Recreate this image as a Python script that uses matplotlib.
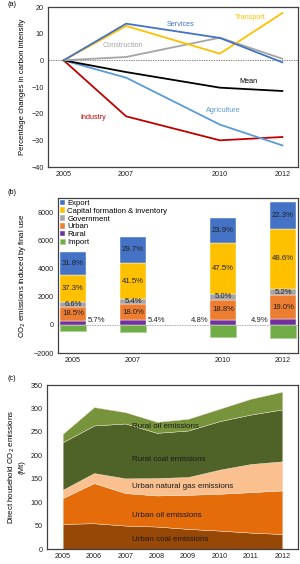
import matplotlib
matplotlib.use("Agg")
import matplotlib.pyplot as plt
import numpy as np

plt.rcParams['font.family'] = ['Liberation Sans', 'DejaVu Sans']

# ---------- Panel (a) data ----------
years_a = [2005, 2007, 2010, 2012]
services = [0, 13.75, 8.4, -0.75]
transport = [0, 12.9, 2.5, 17.75]
construction = [0, 1.25, 8.5, 0.6]
mean = [0, -4.4, -10.25, -11.5]
agriculture = [0, -6.5, -24.1, -31.9]
industry = [0, -21.0, -30.0, -28.75]

# ---------- Panel (b) data ----------
years_b = [2005, 2007, 2010, 2012]
totals_b = [5150, 6250, 7600, 8750]
pct_rural = [5.7, 5.4, 4.8, 4.9]
pct_urban = [18.5, 18.0, 18.8, 19.0]
pct_gov = [6.6, 5.4, 5.0, 5.2]
pct_capital = [37.3, 41.5, 47.5, 48.6]
pct_export = [31.8, 29.7, 23.9, 22.3]
imports = [-420, -540, -840, -935]

# ---------- Panel (c) data ----------
years_c = [2005, 2006, 2007, 2008, 2009, 2010, 2011, 2012]
urban_coal = [53.6, 55.0, 50.0, 47.9, 42.9, 39.3, 35.0, 32.0]
urban_oil = [55.0, 85.7, 69.3, 66.4, 72.8, 78.6, 86.4, 93.0]
urban_gas = [17.8, 21.3, 31.4, 37.1, 37.9, 51.4, 60.0, 62.1]
rural_coal = [101.5, 101.6, 117.2, 96.5, 99.3, 103.6, 105.6, 110.8]
rural_oil = [17.8, 39.3, 24.1, 23.5, 25.0, 26.4, 33.7, 37.8]

FS = 5.2
frame_col = '#404040'

fig = plt.figure(figsize=(3.0, 5.64), dpi=100)

def style(ax):
    for s in ax.spines.values():
        s.set_color(frame_col)
        s.set_linewidth(0.9)
    ax.tick_params(length=0, labelsize=FS, pad=3, colors='#222222')

# ---------- Panel (a) ----------
ax1 = fig.add_axes([48/300, 1-167/564, 250/300, 160/564])
style(ax1)
ax1.axhline(0, color='#555555', lw=0.5, ls=(0, (2, 1.5)))
series = [
    (industry, '#C00000', 'Industry', 2005.95, -21.25),
    (agriculture, '#5B9BD5', 'Agriculture', 2010.1, -18.75),
    (mean, '#000000', 'Mean', 2010.9, -7.9),
    (construction, '#A5A5A5', 'Construction', 2006.9, 5.5),
    (transport, '#FFC000', 'Transport', 2010.96, 16.0),
    (services, '#4472C4', 'Services', 2008.73, 13.5),
]
for vals, col, name, tx, ty in series:
    ax1.plot(years_a, vals, color=col, lw=1.3, solid_joinstyle='miter')
    ax1.text(tx, ty, name, color=col, fontsize=FS, ha='center', va='center')
ax1.set_xlim(2004.5, 2012.5)
ax1.set_ylim(-40, 20)
ax1.set_xticks(years_a)
ax1.set_yticks([-40, -30, -20, -10, 0, 10, 20])
ax1.set_ylabel('Percentage changes in carbon intensity', fontsize=5.6, labelpad=4)
fig.text(7/300, 1-5/564, '(a)', fontsize=FS, ha='left', va='center')

# ---------- Panel (b) ----------
ax2 = fig.add_axes([58/300, 1-353/564, 240/300, 155/564])
style(ax2)
ax2.axhline(0, color='#888888', lw=0.6, ls=(0, (1, 1)), zorder=1)
yb = np.array(years_b, dtype=float)
tot = np.array(totals_b, dtype=float)
layers = [
    ('Rural', pct_rural, '#7030A0'),
    ('Urban', pct_urban, '#ED7D31'),
    ('Government', pct_gov, '#A5A5A5'),
    ('Capital formation & inventory', pct_capital, '#FFC000'),
    ('Export', pct_export, '#4472C4'),
]
w = 0.85
bottom = np.zeros(len(yb))
handles = {}
for name, pct, col in layers:
    vals = tot * np.array(pct) / 100.0
    h = ax2.bar(yb, vals, w, bottom=bottom, color=col, zorder=2, edgecolor='white', linewidth=0.3)
    handles[name] = h
    if name != 'Rural':
        for x, b, v, p in zip(yb, bottom, vals, pct):
            ax2.text(x, b + v/2, f'{p:.1f}%', fontsize=5.6, ha='center', va='center', color='#222222', zorder=3)
    else:
        for i, (x, b, v, p) in enumerate(zip(yb, bottom, vals, pct)):
            if i < 2:
                ax2.text(x + w/2 + 0.05, 330, f'{p:.1f}%', fontsize=5.6, ha='left', va='center', color='#222222', zorder=3)
            else:
                ax2.text(x - w/2 - 0.05, 330, f'{p:.1f}%', fontsize=5.6, ha='right', va='center', color='#222222', zorder=3)
    bottom = bottom + vals
h_imp = ax2.bar(yb, imports, w, color='#70AD47', zorder=2, edgecolor='#A9D18E', linewidth=0.5)
handles['Import'] = h_imp
order = ['Export', 'Capital formation & inventory', 'Government', 'Urban', 'Rural', 'Import']
ax2.legend([handles[k] for k in order], order, loc='upper left', fontsize=5.6, frameon=False,
           handlelength=0.7, handleheight=0.7, handletextpad=0.3, labelspacing=0.05,
           borderaxespad=0.1, borderpad=0.1)
ax2.set_xlim(2004.5, 2012.5)
ax2.set_ylim(-2000, 9000)
ax2.set_xticks(years_b)
ax2.set_yticks([-2000, 0, 2000, 4000, 6000, 8000])
ax2.set_ylabel('CO$_2$ emissions induced by final use', fontsize=5.6, labelpad=4)
fig.text(7/300, 1-192/564, '(b)', fontsize=FS, ha='left', va='center')

# ---------- Panel (c) ----------
ax3 = fig.add_axes([47/300, 1-549/564, 251/300, 164/564])
style(ax3)
cols_c = ['#974806', '#E46C0A', '#FAC090', '#4F6228', '#77933C']
ax3.stackplot(years_c, urban_coal, urban_oil, urban_gas, rural_coal, rural_oil,
              colors=cols_c, edgecolor='#F0E6D0', linewidth=0.3)
labels_c = [('Urban coal emissions', 20), ('Urban oil emissions', 72), ('Urban natural gas emissions', 134),
            ('Rural coal emissions', 191), ('Rural oil emissions', 262)]
for txt, yv in labels_c:
    ax3.text(2007.2, yv, txt, fontsize=5.8, ha='left', va='center', color='#1a1a1a')
ax3.set_xlim(2004.5, 2012.5)
ax3.set_ylim(0, 350)
ax3.set_xticks(years_c)
ax3.set_yticks(range(0, 351, 50))
ax3.set_ylabel('Direct household CO$_2$ emissions\n(Mt)', fontsize=5.6, labelpad=4, linespacing=1.2)
fig.text(7/300, 1-378/564, '(c)', fontsize=FS, ha='left', va='center')

fig.savefig('out.png', dpi=100)
